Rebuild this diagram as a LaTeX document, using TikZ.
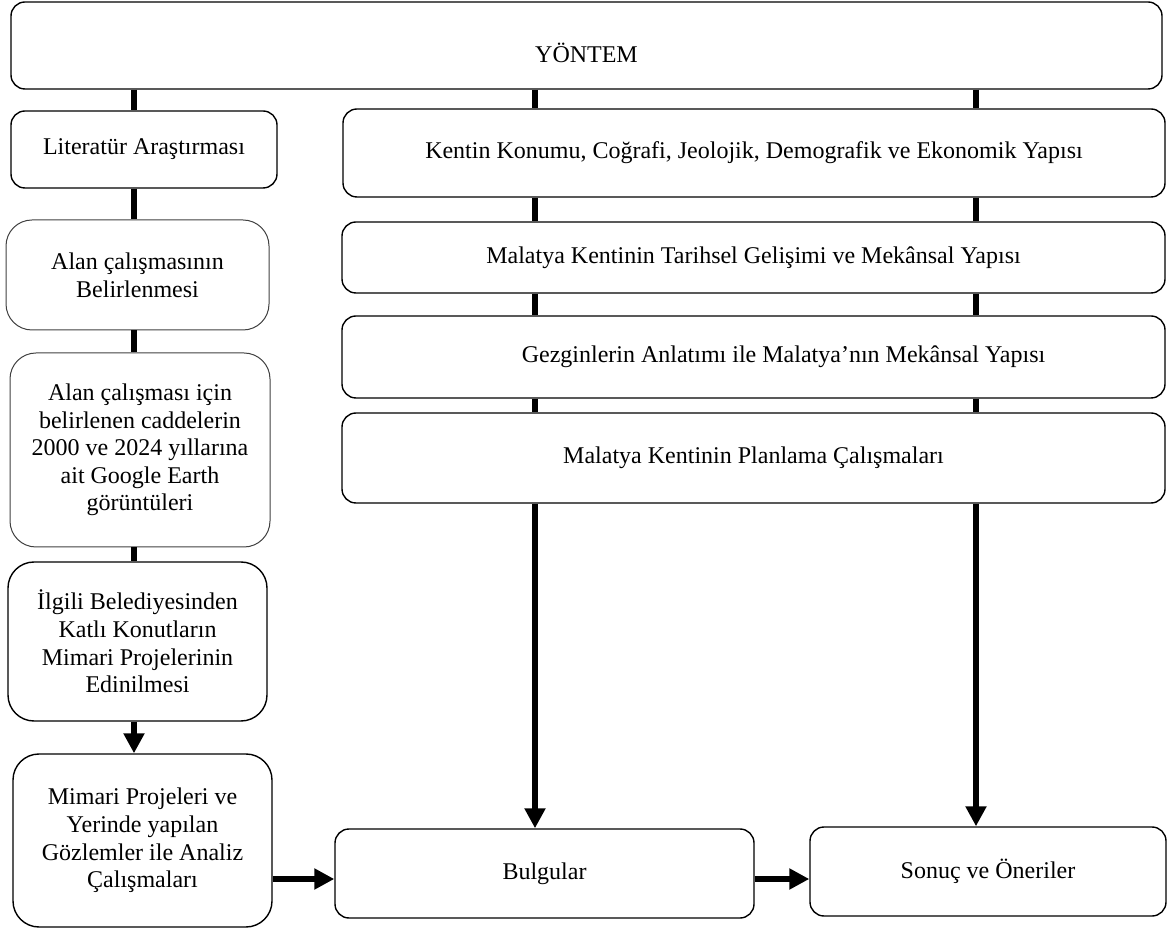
\documentclass[tikz,border=0pt]{standalone}
\usepackage{fontspec}
\setmainfont{Liberation Serif}
\usetikzlibrary{arrows.meta}

\begin{document}
\begin{tikzpicture}[x=0.5pt,y=-0.5pt,font=\fontsize{12}{13.8}\selectfont,
	box/.style={draw,line width=0.7pt,rounded corners=7pt,align=center,inner sep=2pt},
	tallbox/.style={box,rounded corners=13pt},
	thinbox/.style={tallbox,draw=black!75,line width=0.5pt},
	link/.style={line width=3pt},
	arr/.style={line width=3pt,-{Triangle[length=10pt,width=10pt]}}]
	\useasboundingbox (0,0) rectangle (1172,929);

	%top box
	\node[box,minimum width=575.5pt,minimum height=43.5pt,text height=17pt,text depth=0pt] (yontem) at (586.5,45.5) {YÖNTEM}; %method

	%left column-----------------------------------------
	\node[box,minimum width=133pt,minimum height=38.5pt] (literatur) at (144,149.5) {Literatür Araştırması}; %literature
	\node[thinbox,minimum width=131.5pt,minimum height=55pt] (alanbelir) at (137.5,275) {Alan çalışmasının\\Belirlenmesi}; %field study
	\node[thinbox,minimum width=130pt,minimum height=97pt] (alangoogle) at (140,450) {Alan çalışması için\\belirlenen caddelerin\\2000 ve 2024 yıllarına\\ait Google Earth\\görüntüleri}; %google earth
	\node[tallbox,minimum width=129.5pt,minimum height=79.5pt] (ilgili) at (137.5,641.5) {İlgili Belediyesinden\\Katlı Konutların\\Mimari Projelerinin\\Edinilmesi}; %projects
	\node[tallbox,minimum width=129.5pt,minimum height=86.5pt] (mimari) at (142.5,840.5) {Mimari Projeleri ve\\Yerinde yapılan\\Gözlemler ile Analiz\\Çalışmaları}; %analysis

	%right column----------------------------------------
	\node[box,minimum width=411pt,minimum height=44pt] (kentin) at (754,153) {Kentin Konumu, Coğrafi, Jeolojik, Demografik ve Ekonomik Yapısı};
	\node[box,minimum width=411.5pt,minimum height=35.5pt] (tarihsel) at (753.5,257.5) {Malatya Kentinin Tarihsel Gelişimi ve Mekânsal Yapısı};
	\node[box,minimum width=411.5pt,minimum height=41pt] (gezgin) at (753.5,357) {\hspace*{30pt}Gezginlerin Anlatımı ile Malatya’nın Mekânsal Yapısı};
	\node[box,minimum width=411.5pt,minimum height=45pt] (planlama) at (753.5,458) {Malatya Kentinin Planlama Çalışmaları};

	%results---------------------------------------------
	\node[box,minimum width=209.5pt,minimum height=44.5pt] (bulgular) at (544.5,873.5) {Bulgular}; %findings
	\node[box,minimum width=178pt,minimum height=44.5pt] (sonuc) at (988,871.5) {Sonuç ve Öneriler}; %conclusion

	%line positions
	\coordinate (colA) at (134,0); %left column line
	\coordinate (colL) at (535,0); %right column, left line
	\coordinate (colR) at (976,0); %right column, right line
	\coordinate (rowB) at (0,879); %bottom arrows

	%links
	\draw[link] (yontem.south -| colA) -- (literatur.north -| colA);
	\draw[link] (yontem.south -| colL) -- (kentin.north -| colL);
	\draw[link] (yontem.south -| colR) -- (kentin.north -| colR);
	\foreach \a/\b in {literatur/alanbelir,alanbelir/alangoogle,alangoogle/ilgili}
		\draw[link] (\a.south -| colA) -- (\b.north -| colA);
	\foreach \a/\b in {kentin/tarihsel,tarihsel/gezgin,gezgin/planlama}{
		\draw[link] (\a.south -| colL) -- (\b.north -| colL);
		\draw[link] (\a.south -| colR) -- (\b.north -| colR);
	}

	%arrows
	\draw[arr] (ilgili.south -| colA) -- (mimari.north -| colA);
	\draw[arr] (planlama.south -| colL) -- (bulgular.north -| colL);
	\draw[arr] (planlama.south -| colR) -- (sonuc.north -| colR);
	\draw[arr] (mimari.east |- rowB) -- (bulgular.west |- rowB);
	\draw[arr] (bulgular.east |- rowB) -- (sonuc.west |- rowB);
\end{tikzpicture}
\end{document}
